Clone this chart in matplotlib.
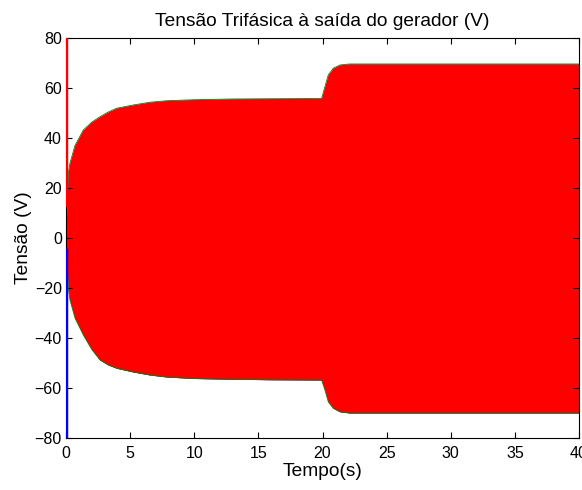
import numpy as np
import matplotlib.pyplot as plt

plt.rcParams['font.family'] = ['Liberation Sans', 'DejaVu Sans']

# envoltória da tensão de fase (V) lida em função do tempo (s)
t_env = [0.0, 0.18, 0.31, 0.7, 1.35, 2.0, 2.65, 3.3, 3.95, 5.25, 6.55, 7.85,
         10.0, 13.0, 16.0, 19.93, 20.19, 20.45, 20.84, 21.36, 22.1, 25.0,
         30.0, 35.0, 40.0]
v_sup = [0.0, 25.9, 29.9, 37.0, 43.2, 46.3, 48.5, 50.4, 51.9, 53.2, 54.3, 54.9,
         55.3, 55.6, 55.7, 55.8, 60.5, 65.2, 67.9, 69.2, 69.6, 69.6,
         69.6, 69.6, 69.6]
v_inf = [0.0, -20.0, -24.8, -32.0, -38.8, -44.5, -48.8, -50.8, -52.1, -53.6, -54.8, -55.6,
         -56.2, -56.5, -56.7, -56.8, -60.8, -65.5, -68.1, -69.5, -70.0, -70.0,
         -70.0, -70.0, -70.0]

# picos iniciais em t = 0
t_pico = [0.0, 0.0]
pico_a = [13.0, 85.0]   # fase a (vermelho)
pico_c = [-5.0, -85.0]  # fase c (azul)

fig = plt.figure(figsize=(5.82, 4.9), dpi=100)
ax = fig.add_axes([66 / 582, 52 / 490, 513 / 582, 400 / 490])

ax.fill_between(t_env, v_inf, v_sup, color='blue', linewidth=0)
ax.plot(t_env, v_sup, color='green', linewidth=0.6)
ax.plot(t_env, v_inf, color='green', linewidth=0.6)
ax.fill_between(t_env, v_inf, v_sup, color='red', linewidth=0)
ax.plot(t_pico, pico_c, color='blue', linewidth=2.5, zorder=3)
ax.plot(t_pico, pico_a, color='red', linewidth=2.5, zorder=3)

ax.set_xlim(0, 40)
ax.set_ylim(-80, 80)
ax.set_xticks(np.arange(0, 41, 5))
ax.set_yticks(np.arange(-80, 81, 20))
ax.tick_params(direction='in', top=True, right=True, length=4, labelsize=11.5,
               width=0.8)
ax.tick_params(axis='x', pad=6)
ax.tick_params(axis='y', pad=3)
for s in ax.spines.values():
    s.set_linewidth(0.8)

ax.set_title('Tensão Trifásica à saída do gerador (V)', fontsize=13.8, pad=9)
ax.set_xlabel('Tempo(s)', fontsize=13.8, labelpad=1)
ax.set_ylabel('Tensão (V)', fontsize=13.8, labelpad=2)

fig.savefig('out.png', dpi=100)
